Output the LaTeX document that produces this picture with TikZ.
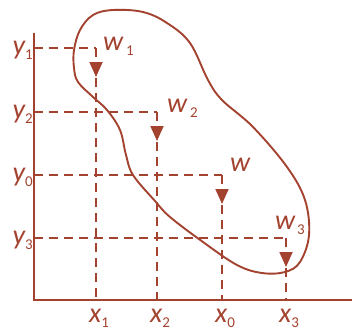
\documentclass[tikz,border=0pt]{standalone}
\usepackage{fontspec}
\setmainfont{Carlito}
\usetikzlibrary{arrows.meta,decorations.markings}
\definecolor{rust}{HTML}{A3432F}
\newcommand{\lowsub}[1]{\raisebox{-5pt}{\upshape\fontsize{15}{15}\selectfont #1}}

\begin{document}
\begin{tikzpicture}[
  x=1pt, y=-1pt,
  axis/.style={rust, line width=2.4pt},
  guide/.style={rust, line width=1.8pt, dash pattern=on 9pt off 6pt},
  drop/.style={guide, postaction={decorate}, decoration={markings,
      mark=at position 29pt with {\arrow{Triangle[length=15pt,width=13pt]}}}},
  lbl/.style={text=rust, font=\fontsize{28}{30}\selectfont\itshape, inner sep=0pt},
  blob/.style={rust, line width=1.9pt},
]
\useasboundingbox (0,0) rectangle (352,332);

% axes
\coordinate (o) at (34,300);
\draw[axis] (34,33) -- (o) -- (352,300);

% levels and drop points
\coordinate (c1) at (96,48);
\coordinate (c2) at (157,112);
\coordinate (c0) at (222,175);
\coordinate (c3) at (286,238);

\foreach \c/\s in {c1/1,c2/2,c0/0,c3/3}{
  \draw[guide] (o |- \c) -- (\c);
  \draw[drop] (\c) -- (\c |- o);
  \node[lbl, anchor=base east] (y\s) at ([xshift=-1pt,yshift=-6pt]o |- \c) {y\lowsub{\s}};
  \node[lbl, anchor=base] (x\s) at ([xshift=3pt,yshift=-22pt]\c |- o) {x\lowsub{\s}};
}

% utility labels
\node[lbl, anchor=base west] (w1) at (103,50) {w\hspace{3pt}\lowsub{1}};
\node[lbl, anchor=base west] (w2) at (167,112) {w\hspace{3pt}\lowsub{2}};
\node[lbl, anchor=base west] (w0) at (230,171) {w};
\node[lbl, anchor=base west] (w3) at (275,229) {w\hspace{2pt}\lowsub{3}};

% feasible region
\draw[blob] plot[smooth cycle, tension=0.6] coordinates {
  (74,50) (80,30) (93,15) (113,10) (143,12) (167,23) (190,43)
  (208,80) (222,100) (253,127) (287,167) (305,200) (309,235) (300,262)
  (285,272) (262,273) (237,265) (203,242) (170,217) (155,201)
  (133,175) (126,155) (120,130) (107,110) (93,97) (78,82) (74,68)};
\end{tikzpicture}
\end{document}
